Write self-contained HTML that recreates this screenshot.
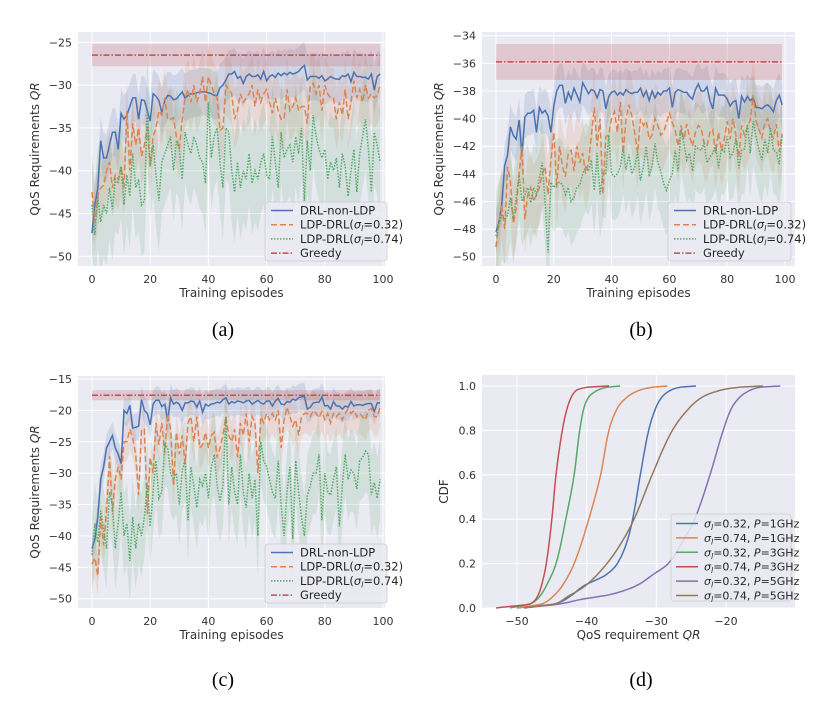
<!DOCTYPE html>
<html><head><meta charset="utf-8">
<style>
html,body{margin:0;padding:0;background:#fff;}
svg{display:block;font-family:"DejaVu Sans","Liberation Sans",sans-serif;}
</style></head>
<body>
<svg id="chart" width="818" height="702" viewBox="0 0 818 702" xmlns="http://www.w3.org/2000/svg">
<text x="223" y="336" font-family="Liberation Serif, serif" font-size="20" text-anchor="middle">(a)</text>
<text x="641" y="336" font-family="Liberation Serif, serif" font-size="20" text-anchor="middle">(b)</text>
<text x="223" y="686" font-family="Liberation Serif, serif" font-size="20" text-anchor="middle">(c)</text>
<text x="641" y="686" font-family="Liberation Serif, serif" font-size="20" text-anchor="middle">(d)</text>
</svg>
<script>
// ---------- data ----------
const episodeTicks=[0,20,40,60,80,100];
const yTicksA=[-50,-45,-40,-35,-30,-25];
const yTicksB=[-50,-48,-46,-44,-42,-40,-38,-36,-34];
const yTicksC=[-50,-45,-40,-35,-30,-25,-20,-15];
const seriesNames=["DRL-non-LDP","LDP-DRL(σl=0.32)","LDP-DRL(σl=0.74)","Greedy"];

const blueA=[-47.3,-44,-42,-36.5,-38.5,-38.5,-37,-35.5,-35.5,-37.5,-33.3,-34,-33.5,-32.5,-31.5,-31.5,-34,-31.7,-31.8,-33,-34.2,-31,-31.3,-31.8,-33.2,-31.8,-31.2,-31.3,-31.7,-31.6,-31.2,-30.8,-31.5,-31.2,-31,-31,-30.9,-30.8,-30.8,-30.8,-30.9,-31,-31.2,-31.2,-30.3,-30,-29.4,-28.7,-28.7,-28.4,-29.2,-29,-29.8,-29,-28.7,-29,-29,-28.8,-29.3,-28.4,-29.5,-29,-28.8,-29.1,-28.6,-28.9,-28.6,-28.8,-28.5,-28.7,-28.6,-28.4,-28,-27.7,-29.4,-29,-29,-29,-29.2,-28.9,-29.5,-29.3,-29,-29.2,-29.3,-29.3,-28.9,-29,-28.7,-29.6,-28.5,-29,-29,-29.1,-29.1,-29.3,-28.7,-30.6,-29,-28.7];
const orangeA=[-42.5,-46,-43,-42,-41.7,-40,-39,-42,-40.5,-41,-39.5,-42,-33,-40,-34.5,-37,-35,-38.3,-37,-35,-39.5,-36,-35,-33,-33.5,-31.5,-34,-34,-33.8,-36,-37.5,-34,-31.5,-30.5,-32,-30,-32,-31,-29,-32,-29,-30,-31,-31.5,-35.3,-35,-30,-30.5,-31,-34,-33,-31,-32,-31.5,-31,-30,-32.5,-30.5,-32,-31,-30.5,-32,-33.3,-31.5,-33,-34,-34,-30.5,-33,-32.5,-31.5,-33,-32.5,-32.5,-34.5,-30,-29.8,-31,-30,-33,-30,-31,-31.5,-31.5,-34,-32,-33.5,-30.5,-34,-32,-29.5,-31.5,-30.5,-32,-30,-31.5,-31,-31.5,-31.2,-30];
const greenA=[-44,-47.5,-43,-46,-44,-45,-42,-44.5,-41,-41.5,-39.5,-44,-40.5,-43,-38,-42,-41,-44,-43.5,-33,-39.5,-37,-40.5,-43.5,-39,-38,-37,-36,-40,-36.5,-37.5,-41,-35.5,-37,-38,-36,-37,-38.5,-39,-41.5,-32,-38.5,-36,-35,-39,-42,-35,-35.5,-40,-42.5,-39,-42,-40,-41,-38,-41.5,-40,-41,-39,-38,-40.5,-41,-36,-39,-42,-35.5,-38.5,-37.5,-37,-39,-36,-38,-35,-43.5,-36.5,-40,-33.5,-36,-37.5,-38.5,-37.5,-41,-39,-40,-38.5,-42,-38,-39.5,-43,-40,-37.5,-42.5,-38,-36,-34,-37.5,-42.5,-35.5,-37,-39];
const greedyA=[-26.5];
const spreadA=[2.8,3.5,6,1.3];

const blueB=[-48.2,-47.5,-46.2,-43.4,-42.6,-40.6,-41.2,-41.5,-40.1,-42.6,-39.9,-39.6,-39.6,-39.4,-41,-39.2,-39.6,-39.4,-39.8,-41,-39.1,-38,-37.6,-37.6,-38.9,-38.1,-38.6,-37.8,-38.3,-38.8,-37.4,-37.8,-38.2,-37.9,-38,-38.5,-37.9,-38,-39.3,-38.4,-38.1,-38,-38.3,-38.1,-38.3,-37.9,-38.1,-38.2,-38.1,-38.1,-37.8,-38.4,-38,-38.7,-38,-38.5,-38.1,-38.3,-38,-38,-37.8,-39.2,-38.1,-37.9,-38,-38.1,-38.1,-38.4,-38.6,-37.9,-37.5,-38,-38,-37.7,-38.7,-39.3,-37.8,-38.3,-38.3,-38.3,-38.6,-39.1,-38.8,-38.7,-40,-38.4,-38.8,-38.4,-38.7,-38.5,-39.2,-39.2,-39.3,-39.1,-39,-39.2,-39.5,-38.7,-38.3,-39];
const orangeB=[-49.3,-47.5,-46.2,-48,-43.5,-44.5,-47.6,-46.5,-44,-42,-47.3,-45.5,-45,-46,-45.5,-45,-44,-43.5,-45.5,-43,-41,-45,-42,-43.5,-44.2,-42.5,-42.3,-43.8,-42,-43.2,-42.5,-44,-43.2,-41.2,-39.2,-42,-40,-45.5,-41.3,-41.2,-40,-39.5,-41,-38.8,-42.5,-40,-39,-39.8,-41,-42.5,-40,-40.5,-40.2,-41.5,-41.2,-40,-40.5,-41.2,-41,-40.3,-39.6,-40.3,-40.8,-42,-40.5,-41.5,-40.4,-41.3,-42,-41,-40.5,-40.7,-41.8,-42,-41,-40.8,-42.5,-41,-42.3,-41.5,-40.2,-41.5,-40,-41.2,-42.8,-40.5,-41.2,-40.6,-40.1,-38.3,-40.2,-40.8,-41.4,-40.3,-40,-41,-41.4,-40.4,-42.4,-41.1];
const greenB=[-48.5,-47.8,-47,-47.3,-47,-45.7,-47.3,-45.7,-44.1,-46,-45.5,-45,-46.1,-45,-45.5,-44.3,-43.2,-46,-49.7,-44.6,-45,-44.7,-44.6,-44.8,-45.5,-45,-46,-45.7,-45,-44.8,-44,-43.5,-43.8,-43,-45.2,-42.5,-45.5,-44,-44,-41.2,-44,-44.2,-44,-43.5,-42.2,-43.7,-42.6,-44,-43.5,-42.4,-44.5,-43.5,-42,-44.2,-43.4,-41.8,-43.2,-43.8,-44.7,-45.2,-44.5,-44,-42.3,-43.8,-40.8,-41.8,-43,-42.5,-43.8,-42,-42.2,-42.3,-41.8,-43.2,-42.8,-42.5,-41.9,-43.6,-42.2,-42.4,-41.3,-42.8,-42.5,-41.4,-43.6,-42.3,-42.2,-40.4,-42.5,-40.2,-41.3,-42.3,-43,-41.5,-42.5,-40.7,-42.3,-42.4,-43.3,-41.2];
const greedyB=[-35.9];
const spreadB=[1.6,2.6,3.2,1.3];

const blueC=[-42,-40.5,-37,-31,-29,-26,-25,-24,-26,-27,-28.5,-20,-20.5,-19.2,-22.8,-22.7,-22.5,-18.3,-20,-20.5,-22.3,-19,-18.4,-18.4,-19.4,-19,-21.7,-18,-19,-18.7,-19,-20,-18.8,-18.8,-18.5,-18.6,-19.5,-18.5,-20.3,-19,-19.3,-19,-18.9,-18.7,-18.8,-18.3,-18,-19,-18.6,-18.8,-18.5,-18.6,-18.8,-18.5,-18.4,-19,-18.7,-18.4,-18.8,-19,-18.5,-18.5,-19.3,-18.5,-18.1,-19,-19.1,-18.6,-18.7,-18.2,-18.4,-18,-17.8,-17.8,-19.8,-19.5,-18.8,-18.7,-18.7,-17.9,-19.3,-19.2,-19.8,-18.6,-19.3,-19.3,-19.8,-19.3,-19.5,-18.6,-19.3,-19.1,-19.1,-19.2,-19,-18.9,-18.9,-20.2,-18.8,-18.8];
const orangeC=[-44.5,-43.5,-46.3,-37,-41.5,-36,-27.3,-36.2,-31,-29,-31,-25,-25,-23,-24.5,-27,-33.5,-23,-23,-36.5,-27.5,-30,-22,-25.5,-22,-26.8,-20.5,-23,-32,-23.5,-27,-24,-28.5,-22,-21,-25,-21,-26,-25.5,-23.5,-26,-24,-23.5,-27.5,-26,-24,-21,-24,-25,-23,-27.5,-22,-24,-20.5,-25,-21,-22,-30,-21,-22,-20.5,-21.5,-20.5,-21.5,-20,-26,-21.5,-19.5,-21,-22.5,-21.5,-24,-21,-20.5,-20.5,-21,-20,-20.5,-21.2,-20.2,-21.5,-20.5,-22,-20.5,-21,-20.5,-21.5,-20.5,-19.8,-20.5,-20,-21,-20.5,-21,-21.5,-20,-19.7,-21,-21,-19.5];
const greenC=[-43,-38,-41,-36,-39,-42,-33,-35,-42,-38,-33,-40,-38,-44,-37,-42,-38,-40,-37,-31.5,-38.5,-33,-28,-34,-33,-25.5,-26,-30,-31,-30,-35,-29.5,-28,-37.5,-29,-32,-35.5,-31,-32,-30,-34,-29,-27,-32,-34.5,-32,-21,-35,-29,-33,-35,-27,-33,-35.5,-30,-34,-31,-40,-25,-28,-29,-31,-33,-34,-28,-35,-40,-33,-29,-40.5,-28,-33,-37,-40,-33.5,-32,-30,-30,-27,-37.5,-30,-33,-33.5,-31,-29,-38.5,-32,-27,-31,-29.5,-30,-32.5,-28,-27.5,-26.5,-27,-33.5,-31.5,-34,-31];
const greedyC=[-17.6];
const spreadC=[2.2,3.2,6.5,0.8];

// CDF panel (d)
const cdfXTicks=[-50,-40,-30,-20];
const cdfYTicks=[0,0.2,0.4,0.6,0.8,1.0];
const cdfNames=["σl=0.32, P=1GHz","σl=0.74, P=1GHz","σl=0.32, P=3GHz","σl=0.74, P=3GHz","σl=0.32, P=5GHz","σl=0.74, P=5GHz"];
const cdf1Q=[-50,-44.4,-42.5,-40.4,-37.2,-35.6,-34.2,-33.4,-32.3,-31.1,-30.1,-29.2,-28,-26.5,-24.3];
const cdf1P=[0,0.02,0.05,0.1,0.15,0.2,0.3,0.4,0.6,0.8,0.9,0.95,0.98,0.995,1];
const cdf2Q=[-50,-46.3,-44.9,-43.5,-41.8,-39.7,-38,-36.8,-35.6,-34.2,-32.5,-30.5,-28.4];
const cdf2P=[0,0.02,0.05,0.1,0.2,0.4,0.6,0.8,0.9,0.95,0.98,0.995,1];
const cdf3Q=[-51,-48,-46.8,-45.8,-44.4,-43,-41.8,-41,-40.4,-39.7,-38.5,-37,-35.2];
const cdf3P=[0,0.02,0.05,0.1,0.2,0.4,0.6,0.8,0.9,0.95,0.98,0.995,1];
const cdf4Q=[-53,-48,-47.1,-46.5,-45.8,-45,-44.4,-43.5,-42.8,-42.2,-41.5,-39.8,-36.8];
const cdf4P=[0,0.02,0.05,0.1,0.2,0.4,0.6,0.8,0.9,0.95,0.98,0.995,1];
const cdf5Q=[-49,-43.6,-40.6,-36.7,-32.9,-30.5,-28.3,-26.2,-24.5,-22.3,-20.4,-19.2,-18,-16.6,-15,-12.2];
const cdf5P=[0,0.02,0.04,0.06,0.1,0.15,0.2,0.3,0.4,0.6,0.8,0.9,0.95,0.98,0.995,1];
const cdf6Q=[-49,-44.4,-42.8,-40.2,-37.1,-34.9,-33.2,-30.6,-27.7,-25.3,-23.4,-20.9,-18,-14.7];
const cdf6P=[0,0.02,0.05,0.1,0.2,0.3,0.4,0.6,0.8,0.9,0.95,0.98,0.995,1];

// ---------- drawing ----------
const NS="http://www.w3.org/2000/svg";
const svg=document.getElementById('chart');
function mk(tag,attrs,parent){const e=document.createElementNS(NS,tag);for(const k in attrs)e.setAttribute(k,attrs[k]);(parent||svg).appendChild(e);return e;}
const COL=["#4c72b0","#dd8452","#55a868","#c44e52","#8172b3","#937860"];
const DASH=["none","6,3","1.5,1.5","6,2,1.5,2"];

function sigmaLabel(parent,x,y,txt){
  const t=mk('text',{x:x,y:y,'font-size':11.5,fill:'#262626'},parent);
  
  
  const i=txt.indexOf('σl');
  if(i<0){t.textContent=txt;return t;}
  const pre=txt.slice(0,i), post=txt.slice(i+2);
  const s1=mk('tspan',{},t); s1.textContent=pre;
  const s2=mk('tspan',{'font-style':'italic'},t); s2.textContent='σ';
  const s3=mk('tspan',{'font-style':'italic','font-size':8,dy:2.5},t); s3.textContent='l';
  const pm=post.match(/^(=[0-9.]+, )P(.*)$/);
  if(pm){
    const s4=mk('tspan',{dy:-2.5},t); s4.textContent=pm[1];
    const s5=mk('tspan',{'font-style':'italic'},t); s5.textContent='P';
    const s6=mk('tspan',{},t); s6.textContent=pm[2];
  } else {
    const s4=mk('tspan',{dy:-2.5},t); s4.textContent=post;
  }
  return t;
}

function axesFrame(P,name,xTicks,yTicks,xfmt,yfmt,xlabel,ylabel){
  const g=mk('g',{});
  
  
  const bg=mk('rect',{x:P.L,y:P.T,width:P.R-P.L,height:P.B-P.T,fill:'#eaeaf2'},g);
  
  
  xTicks.forEach(v=>{
    const x=P.sx(v);
    const gl=mk('line',{x1:x,x2:x,y1:P.T,y2:P.B,stroke:'#fff','stroke-width':1},g);
    
    
    const tl=mk('text',{x:x,y:P.B+17,'font-size':11,fill:'#333','text-anchor':'middle'},g);
    
    
    tl.textContent=xfmt(v);
  });
  yTicks.forEach(v=>{
    const y=P.sy(v);
    const gl=mk('line',{x1:P.L,x2:P.R,y1:y,y2:y,stroke:'#fff','stroke-width':1},g);
    
    
    const tl=mk('text',{x:P.L-6,y:y+4,'font-size':11,fill:'#333','text-anchor':'end'},g);
    
    
    tl.textContent=yfmt(v);
  });
  const xl=mk('text',{x:(P.L+P.R)/2,y:P.B+31,'font-size':12,fill:'#333','text-anchor':'middle'},g);
  
  
  xlabel.forEach(([s,it])=>{const sp=mk('tspan',it?{'font-style':'italic'}:{},xl);sp.textContent=s;});
  const cy=(P.T+P.B)/2;
  const yl=mk('text',{x:P.YL,y:cy,'font-size':12,fill:'#333','text-anchor':'middle',transform:`rotate(-90 ${P.YL} ${cy})`},g);
  
  
  ylabel.forEach(([s,it])=>{const sp=mk('tspan',it?{'font-style':'italic'}:{},yl);sp.textContent=s;});
  return g;
}

const fmtNum=v=>(v<0?'\u2212':'')+Math.abs(v);

function trainPanel(P,id,yTicks,blue,orange,green,greedy,spread,legend){
  const g=axesFrame(P,'panel-'+id,episodeTicks,yTicks,fmtNum,fmtNum,[["Training episodes",false]],[["QoS Requirements ",false],["QR",true]]);
  const clip=mk('clipPath',{id:'clip'+id},g);
  mk('rect',{x:P.L,y:P.T,width:P.R-P.L,height:P.B-P.T},clip);
  const dg=mk('g',{'clip-path':`url(#clip${id})`},g);
  
  
  const greedyVals=blue.map(()=>greedy[0]);
  const all=[blue,orange,green,greedyVals];
  const names=['drl-non-ldp','ldp-drl-032','ldp-drl-074','greedy'];
  all.forEach((arr,k)=>{
    const up=arr.map((v,i)=>[P.sx(i*99/(arr.length-1)),P.sy(v+spread[k])]);
    const dn=arr.map((v,i)=>[P.sx(i*99/(arr.length-1)),P.sy(v-spread[k])]).reverse();
    const d='M'+up.concat(dn).map(p=>p[0].toFixed(1)+','+p[1].toFixed(1)).join('L')+'Z';
    const b=mk('path',{d:d,fill:COL[k],'fill-opacity':k==3?0.22:0.16,stroke:'none'},dg);
    
    
  });
  all.forEach((arr,k)=>{
    const d='M'+arr.map((v,i)=>P.sx(i*99/(arr.length-1)).toFixed(1)+','+P.sy(v).toFixed(1)).join('L');
    const l=mk('path',{d:d,fill:'none',stroke:COL[k],'stroke-width':1.5,'stroke-dasharray':DASH[k]},dg);
    
    
  });
  const lg=mk('g',{},g);
  
  
  const box=mk('rect',{x:legend.x,y:legend.y,width:legend.w,height:59,rx:3,fill:'#eaeaf2','fill-opacity':0.85,stroke:'#cccccc','stroke-width':0.8},lg);
  
  
  seriesNames.forEach((nm,k)=>{
    const y=legend.y+8.5+k*14.2;
    const h=mk('line',{x1:legend.x+6,x2:legend.x+28,y1:y,y2:y,stroke:COL[k],'stroke-width':1.5,'stroke-dasharray':DASH[k]},lg);
    
    
    sigmaLabel(lg,legend.x+35,y+4,nm);
  });
}

function lin(v0,p0,v1,p1){return v=>p0+(v-v0)*(p1-p0)/(v1-v0);}

const PA={L:78,R:385,T:32,B:266,YL:39,sx:lin(0,92,100,383),sy:lin(-25,42.3,-50,256.3)};
const PB={L:482,R:795,T:32,B:266,YL:443,sx:lin(0,496,100,785),sy:lin(-34,35.7,-50,256.7)};
const PC={L:78,R:385,T:376,B:608,YL:39,sx:lin(0,92,100,383),sy:lin(-15,379,-50,598.7)};
const PD={L:482,R:795,T:375,B:608,YL:448,sx:lin(-50,517,-20,726),sy:lin(1,386,0,608)};

trainPanel(PA,'a',yTicksA,blueA,orangeA,greenA,greedyA,spreadA,{x:265,y:202,w:122});
trainPanel(PB,'b',yTicksB,blueB,orangeB,greenB,greedyB,spreadB,{x:668,y:202,w:123});
trainPanel(PC,'c',yTicksC,blueC,orangeC,greenC,greedyC,spreadC,{x:265,y:544,w:122});

// monotone cubic interpolation of q as function of p
function monotone(ps,qs){
  const n=ps.length, d=[], m=[];
  for(let i=0;i<n-1;i++) d.push((qs[i+1]-qs[i])/(ps[i+1]-ps[i]));
  m.push(d[0]);
  for(let i=1;i<n-1;i++){ m.push(d[i-1]*d[i]<=0?0:2/(1/d[i-1]+1/d[i])); }
  m.push(d[n-2]);
  return p=>{
    let i=0; while(i<n-2 && p>ps[i+1]) i++;
    const h=ps[i+1]-ps[i], t=(p-ps[i])/h;
    const h00=2*t*t*t-3*t*t+1,h10=t*t*t-2*t*t+t,h01=-2*t*t*t+3*t*t,h11=t*t*t-t*t;
    return h00*qs[i]+h10*h*m[i]+h01*qs[i+1]+h11*h*m[i+1];
  };
}

(function(){
  const P=PD;
  const g=axesFrame(P,'panel-d',cdfXTicks,cdfYTicks,fmtNum,v=>v.toFixed(1),[["QoS requirement ",false],["QR",true]],[["CDF",false]]);
  const Qs=[cdf1Q,cdf2Q,cdf3Q,cdf4Q,cdf5Q,cdf6Q];
  const Ps=[cdf1P,cdf2P,cdf3P,cdf4P,cdf5P,cdf6P];
  Qs.forEach((q,k)=>{
    const f=monotone(Ps[k],q);
    const pts=[];
    for(let s=0;s<=400;s++){const p=s/400;pts.push(P.sx(f(p)).toFixed(1)+','+P.sy(p).toFixed(1));}
    const l=mk('path',{d:'M'+pts.join('L'),fill:'none',stroke:COL[k],'stroke-width':1.5,'stroke-linejoin':'round'},g);
    
    
  });
  const lg=mk('g',{},g);
  
  
  const box=mk('rect',{x:671,y:514,width:120,height:87,rx:3,fill:'#eaeaf2','fill-opacity':0.85,stroke:'#cccccc','stroke-width':0.8},lg);
  
  
  cdfNames.forEach((nm,k)=>{
    const y=523.5+k*14.4;
    const h=mk('line',{x1:676,x2:698,y1:y,y2:y,stroke:COL[k],'stroke-width':1.5},lg);
    
    
    sigmaLabel(lg,704,y+4,nm).setAttribute('font-size','11');
  });
})();
</script>
</body></html>
